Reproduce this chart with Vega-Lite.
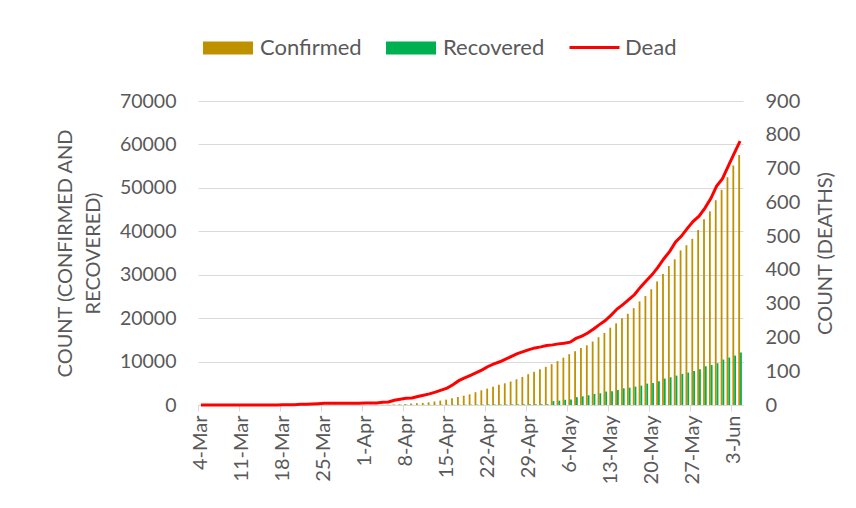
{
  "$schema": "https://vega.github.io/schema/vega-lite/v6.json",
  "width": 545,
  "height": 304,
  "autosize": {"type": "none"},
  "padding": {"left": 198, "top": 101, "right": 113, "bottom": 103},
  "background": "white",
  "config": {
    "view": {"stroke": null},
    "font": "Lato",
    "axis": {"labelColor": "#595959", "titleColor": "#595959", "labelFontSize": 20, "titleFontSize": 20, "titleFontWeight": "normal"}
  },
  "data": {"values": [
    {"day":"4-Mar","Confirmed":0,"Recovered":0,"Dead":0},
    {"day":"5-Mar","Confirmed":0,"Recovered":0,"Dead":0},
    {"day":"6-Mar","Confirmed":0,"Recovered":0,"Dead":0},
    {"day":"7-Mar","Confirmed":0,"Recovered":0,"Dead":0},
    {"day":"8-Mar","Confirmed":3,"Recovered":0,"Dead":0},
    {"day":"9-Mar","Confirmed":3,"Recovered":0,"Dead":0},
    {"day":"10-Mar","Confirmed":3,"Recovered":0,"Dead":0},
    {"day":"11-Mar","Confirmed":3,"Recovered":0,"Dead":0},
    {"day":"12-Mar","Confirmed":3,"Recovered":0,"Dead":0},
    {"day":"13-Mar","Confirmed":3,"Recovered":0,"Dead":0},
    {"day":"14-Mar","Confirmed":3,"Recovered":3,"Dead":0},
    {"day":"15-Mar","Confirmed":5,"Recovered":3,"Dead":0},
    {"day":"16-Mar","Confirmed":8,"Recovered":3,"Dead":0},
    {"day":"17-Mar","Confirmed":10,"Recovered":3,"Dead":0},
    {"day":"18-Mar","Confirmed":14,"Recovered":3,"Dead":1},
    {"day":"19-Mar","Confirmed":17,"Recovered":3,"Dead":1},
    {"day":"20-Mar","Confirmed":20,"Recovered":3,"Dead":1},
    {"day":"21-Mar","Confirmed":24,"Recovered":3,"Dead":2},
    {"day":"22-Mar","Confirmed":27,"Recovered":3,"Dead":2},
    {"day":"23-Mar","Confirmed":33,"Recovered":5,"Dead":3},
    {"day":"24-Mar","Confirmed":39,"Recovered":7,"Dead":4},
    {"day":"25-Mar","Confirmed":39,"Recovered":7,"Dead":5},
    {"day":"26-Mar","Confirmed":44,"Recovered":11,"Dead":5},
    {"day":"27-Mar","Confirmed":48,"Recovered":15,"Dead":5},
    {"day":"28-Mar","Confirmed":48,"Recovered":15,"Dead":5},
    {"day":"29-Mar","Confirmed":48,"Recovered":15,"Dead":5},
    {"day":"30-Mar","Confirmed":49,"Recovered":19,"Dead":5},
    {"day":"31-Mar","Confirmed":51,"Recovered":25,"Dead":5},
    {"day":"1-Apr","Confirmed":54,"Recovered":25,"Dead":6},
    {"day":"2-Apr","Confirmed":56,"Recovered":26,"Dead":6},
    {"day":"3-Apr","Confirmed":61,"Recovered":26,"Dead":6},
    {"day":"4-Apr","Confirmed":70,"Recovered":30,"Dead":8},
    {"day":"5-Apr","Confirmed":88,"Recovered":33,"Dead":9},
    {"day":"6-Apr","Confirmed":123,"Recovered":33,"Dead":14},
    {"day":"7-Apr","Confirmed":164,"Recovered":33,"Dead":17},
    {"day":"8-Apr","Confirmed":218,"Recovered":33,"Dead":20},
    {"day":"9-Apr","Confirmed":330,"Recovered":33,"Dead":21},
    {"day":"10-Apr","Confirmed":424,"Recovered":33,"Dead":25},
    {"day":"11-Apr","Confirmed":482,"Recovered":36,"Dead":29},
    {"day":"12-Apr","Confirmed":621,"Recovered":39,"Dead":33},
    {"day":"13-Apr","Confirmed":803,"Recovered":42,"Dead":38},
    {"day":"14-Apr","Confirmed":1012,"Recovered":42,"Dead":44},
    {"day":"15-Apr","Confirmed":1231,"Recovered":49,"Dead":50},
    {"day":"16-Apr","Confirmed":1572,"Recovered":49,"Dead":60},
    {"day":"17-Apr","Confirmed":1838,"Recovered":58,"Dead":72},
    {"day":"18-Apr","Confirmed":2144,"Recovered":66,"Dead":80},
    {"day":"19-Apr","Confirmed":2456,"Recovered":75,"Dead":88},
    {"day":"20-Apr","Confirmed":2948,"Recovered":85,"Dead":96},
    {"day":"21-Apr","Confirmed":3382,"Recovered":87,"Dead":104},
    {"day":"22-Apr","Confirmed":3772,"Recovered":92,"Dead":114},
    {"day":"23-Apr","Confirmed":4186,"Recovered":108,"Dead":122},
    {"day":"24-Apr","Confirmed":4689,"Recovered":112,"Dead":128},
    {"day":"25-Apr","Confirmed":4998,"Recovered":113,"Dead":136},
    {"day":"26-Apr","Confirmed":5416,"Recovered":122,"Dead":144},
    {"day":"27-Apr","Confirmed":5913,"Recovered":131,"Dead":152},
    {"day":"28-Apr","Confirmed":6462,"Recovered":150,"Dead":158},
    {"day":"29-Apr","Confirmed":7103,"Recovered":150,"Dead":164},
    {"day":"30-Apr","Confirmed":7667,"Recovered":160,"Dead":169},
    {"day":"1-May","Confirmed":8238,"Recovered":174,"Dead":172},
    {"day":"2-May","Confirmed":8790,"Recovered":177,"Dead":176},
    {"day":"3-May","Confirmed":9400,"Recovered":900,"Dead":178},
    {"day":"4-May","Confirmed":10100,"Recovered":1000,"Dead":181},
    {"day":"5-May","Confirmed":10900,"Recovered":1200,"Dead":183},
    {"day":"6-May","Confirmed":11700,"Recovered":1250,"Dead":186},
    {"day":"7-May","Confirmed":12400,"Recovered":1800,"Dead":197},
    {"day":"8-May","Confirmed":13100,"Recovered":2000,"Dead":204},
    {"day":"9-May","Confirmed":13750,"Recovered":2250,"Dead":213},
    {"day":"10-May","Confirmed":14600,"Recovered":2550,"Dead":225},
    {"day":"11-May","Confirmed":15600,"Recovered":2700,"Dead":238},
    {"day":"12-May","Confirmed":16600,"Recovered":3100,"Dead":250},
    {"day":"13-May","Confirmed":17800,"Recovered":3150,"Dead":266},
    {"day":"14-May","Confirmed":18800,"Recovered":3450,"Dead":284},
    {"day":"15-May","Confirmed":20000,"Recovered":3850,"Dead":297},
    {"day":"16-May","Confirmed":21000,"Recovered":4000,"Dead":312},
    {"day":"17-May","Confirmed":22300,"Recovered":4230,"Dead":327},
    {"day":"18-May","Confirmed":23850,"Recovered":4460,"Dead":349},
    {"day":"19-May","Confirmed":25100,"Recovered":4920,"Dead":368},
    {"day":"20-May","Confirmed":26650,"Recovered":5080,"Dead":386},
    {"day":"21-May","Confirmed":28450,"Recovered":5460,"Dead":408},
    {"day":"22-May","Confirmed":30150,"Recovered":6080,"Dead":433},
    {"day":"23-May","Confirmed":32000,"Recovered":6380,"Dead":455},
    {"day":"24-May","Confirmed":33550,"Recovered":6770,"Dead":483},
    {"day":"25-May","Confirmed":35600,"Recovered":7150,"Dead":500},
    {"day":"26-May","Confirmed":36800,"Recovered":7460,"Dead":523},
    {"day":"27-May","Confirmed":38250,"Recovered":7850,"Dead":544},
    {"day":"28-May","Confirmed":40300,"Recovered":8230,"Dead":559},
    {"day":"29-May","Confirmed":42800,"Recovered":8920,"Dead":583},
    {"day":"30-May","Confirmed":44600,"Recovered":9230,"Dead":611},
    {"day":"31-May","Confirmed":47150,"Recovered":9620,"Dead":648},
    {"day":"1-Jun","Confirmed":49550,"Recovered":10460,"Dead":670},
    {"day":"2-Jun","Confirmed":52450,"Recovered":10920,"Dead":708},
    {"day":"3-Jun","Confirmed":55150,"Recovered":11380,"Dead":745},
    {"day":"4-Jun","Confirmed":57550,"Recovered":12080,"Dead":781}
  ]},
  "encoding": {
    "x": {
      "field": "day", "type": "ordinal", "sort": null,
      "scale": {"paddingInner": 0, "paddingOuter": 0},
      "axis": {
        "title": null,
        "values": ["4-Mar","11-Mar","18-Mar","25-Mar","1-Apr","8-Apr","15-Apr","22-Apr","29-Apr","6-May","13-May","20-May","27-May","3-Jun"],
        "bandPosition": 0,
        "labelAngle": -90,
        "labelPadding": 4,
        "tickColor": "#D9D9D9",
        "tickSize": 6,
        "domainColor": "#D9D9D9",
        "domainWidth": 1,
        "grid": false
      }
    }
  },
  "layer": [
    {
      "mark": {"type": "bar", "width": 1.8, "xOffset": -0.9},
      "encoding": {
        "y": {
          "field": "Confirmed", "type": "quantitative",
          "scale": {"domain": [0, 70000]},
          "axis": {
            "title": ["COUNT (CONFIRMED AND", "RECOVERED)"],
            "values": [0, 10000, 20000, 30000, 40000, 50000, 60000, 70000],
            "format": "d",
            "ticks": false,
            "domain": false,
            "grid": true,
            "gridColor": "#D9D9D9",
            "gridWidth": 1,
            "labelFontSize": 19.5,
            "labelPadding": 22,
            "titlePadding": 16,
            "titleLineHeight": 28
          }
        },
        "fill": {
          "datum": "Confirmed",
          "scale": {"domain": ["Confirmed", "Recovered"], "range": ["#BF9000", "#00B050"]},
          "legend": {
            "orient": "none",
            "legendX": 5,
            "legendY": -78,
            "direction": "horizontal",
            "title": null,
            "padding": 0,
            "labelFontSize": 22,
            "labelColor": "#595959",
            "labelOffset": 7,
            "columnPadding": 24,
            "symbolType": "M-1,-0.26H1V0.26H-1Z",
            "symbolSize": 2500,
            "symbolStrokeWidth": 0
          }
        }
      }
    },
    {
      "mark": {"type": "bar", "width": 1.8, "xOffset": 0.9},
      "encoding": {
        "y": {"field": "Recovered", "type": "quantitative", "scale": {"domain": [0, 70000]}, "axis": null},
        "fill": {"datum": "Recovered"}
      }
    },
    {
      "mark": {"type": "line", "strokeWidth": 3},
      "encoding": {
        "y": {
          "field": "Dead", "type": "quantitative",
          "scale": {"domain": [0, 900]},
          "axis": {
            "orient": "right",
            "title": "COUNT (DEATHS)",
            "values": [0, 100, 200, 300, 400, 500, 600, 700, 800, 900],
            "ticks": false,
            "domain": false,
            "grid": false,
            "labelPadding": 22,
            "titleAngle": 270,
            "titleBaseline": "top",
            "titlePadding": 16
          }
        },
        "stroke": {
          "datum": "Dead",
          "scale": {"domain": ["Dead"], "range": ["#FF0000"]},
          "legend": {
            "orient": "none",
            "legendX": 370,
            "legendY": -80,
            "direction": "horizontal",
            "title": null,
            "padding": 0,
            "labelFontSize": 22,
            "labelColor": "#595959",
            "labelOffset": 4,
            "symbolType": "M-1,0H1",
            "symbolSize": 2500,
            "symbolStrokeWidth": 3
          }
        }
      }
    }
  ],
  "resolve": {"scale": {"y": "independent"}}
}
